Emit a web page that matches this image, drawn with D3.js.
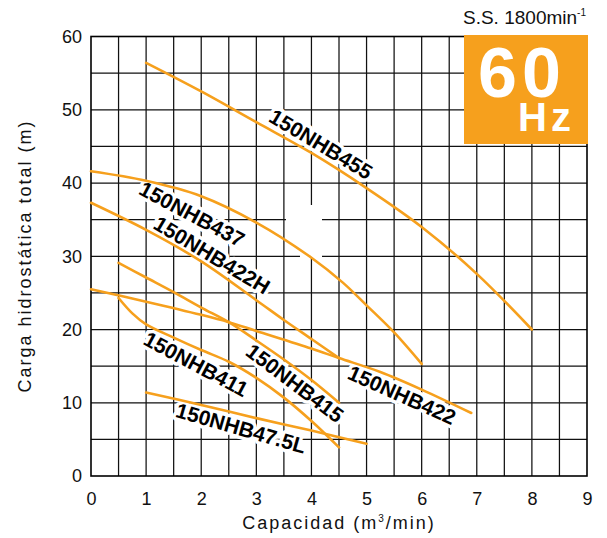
<!DOCTYPE html>
<html>
<head>
<meta charset="utf-8">
<script src="https://d3js.org/d3.v7.min.js"></script>
<style>
  body { margin: 0; background: #fff; }
  text { font-family: "Liberation Sans", Arial, Helvetica, sans-serif; }
</style>
</head>
<body>
<svg id="chart" width="607" height="538"></svg>
<script>
// tick values
var xTicks = [0, 1, 2, 3, 4, 5, 6, 7, 8, 9];
var yTicks = [0, 10, 20, 30, 40, 50, 60];

// pump models and their curves [capacity m3/min, head m]
var models = ["150NHB455", "150NHB437", "150NHB422H", "150NHB422", "150NHB415", "150NHB411", "150NHB47.5L"];
var nhb455 = [[1, 56.4], [2, 52.5], [3, 48.3], [4, 44.1], [5, 39.3], [6, 34.0], [7, 27.6], [8, 20.0]];
var nhb437 = [[0, 41.6], [1, 40.3], [2, 38.2], [3, 34.6], [4, 29.8], [4.57, 26.4], [5, 23.3], [5.5, 19.6], [6, 15.3]];
var nhb422H = [[0, 37.3], [1, 33.6], [2, 29.3], [3, 24.0], [3.5, 21.3], [4, 18.7], [4.5, 16.1]];
var nhb422 = [[0, 25.5], [1, 23.8], [2, 22.0], [2.5, 21.0], [3, 19.8], [4, 17.4], [4.5, 16.1], [5.25, 14.2], [6, 11.8], [6.9, 8.6]];
var nhb415 = [[0.5, 29.1], [1, 27.1], [1.5, 25.1], [2, 23.0], [2.5, 21.0], [3, 18.5], [3.5, 15.9], [4, 13.1], [4.5, 10.0]];
var nhb411 = [[0.5, 24.3], [0.75, 22.2], [1, 20.7], [1.5, 18.9], [2, 17.2], [2.5, 15.6], [3, 13.4], [3.5, 10.7], [4, 7.5], [4.5, 3.9]];
var nhb47 = [[1, 11.4], [2, 9.7], [3, 7.9], [4, 6.2], [5, 4.4]];
var curves = [nhb455, nhb437, nhb422H, nhb422, nhb415, nhb411, nhb47];

// where each model name sits (pixel centre) and its tilt
var labelLayout = [
  { x: 321, y: 144, a: 31 },
  { x: 192, y: 214, a: 28 },
  { x: 212, y: 255, a: 31 },
  { x: 402, y: 395, a: 24 },
  { x: 295, y: 383, a: 37 },
  { x: 196, y: 364, a: 28 },
  { x: 241, y: 428, a: 16 }
];

var orange = "#f6a01d";
var plotL = 91, plotR = 587, plotT = 36.5, plotB = 476;

var svg = d3.select("#chart");
var x = d3.scaleLinear().domain([0, 9]).range([plotL, plotR]);
var y = d3.scaleLinear().domain([0, 60]).range([plotB, plotT]);

// grid: vertical every 0.5, horizontal every 5
var grid = svg.append("g").attr("stroke", "#111").attr("stroke-width", 1.25);
grid.selectAll("line.v").data(d3.range(0.5, 9, 0.5)).enter().append("line")
  .attr("x1", function(d) { return x(d); }).attr("x2", function(d) { return x(d); })
  .attr("y1", plotT).attr("y2", plotB);
grid.selectAll("line.h").data(d3.range(5, 60, 5)).enter().append("line")
  .attr("x1", plotL).attr("x2", plotR)
  .attr("y1", function(d) { return y(d); }).attr("y2", function(d) { return y(d); });

// blank patch in the grid right of the 437 name
svg.append("rect").attr("x", 286).attr("y", 205).attr("width", 36).attr("height", 17).attr("fill", "#fff");
svg.append("rect").attr("x", 300).attr("y", 222).attr("width", 22).attr("height", 35).attr("fill", "#fff");

// frame
svg.append("rect").attr("x", plotL).attr("y", plotT)
  .attr("width", plotR - plotL).attr("height", plotB - plotT)
  .attr("fill", "none").attr("stroke", "#000").attr("stroke-width", 1.6);

// axes labels via d3 axes (no tick lines)
var xAxis = svg.append("g").attr("transform", "translate(0," + plotB + ")")
  .call(d3.axisBottom(x).tickValues(xTicks).tickSize(0).tickPadding(16));
var yAxis = svg.append("g").attr("transform", "translate(" + plotL + ",0)")
  .call(d3.axisLeft(y).tickValues(yTicks).tickSize(0).tickPadding(9));
[xAxis, yAxis].forEach(function(g) {
  g.select(".domain").remove();
  g.selectAll("text").attr("font-size", 18).attr("fill", "#111")
    .attr("font-family", "'Liberation Sans', Arial, sans-serif");
});

// axis titles
var xt = svg.append("text").attr("x", 339).attr("y", 529).attr("text-anchor", "middle")
  .attr("font-size", 18).attr("letter-spacing", 2).attr("fill", "#111");
xt.append("tspan").text("Capacidad (m");
xt.append("tspan").attr("font-size", 10).attr("dy", -7).text("3");
xt.append("tspan").attr("dy", 7).text("/min)");
svg.append("text").attr("transform", "translate(31,256) rotate(-90)")
  .attr("text-anchor", "middle").attr("font-size", 18).attr("letter-spacing", 2)
  .attr("fill", "#111").text("Carga hidrostática total (m)");

// speed note
var ss = svg.append("text").attr("x", 463).attr("y", 24).attr("font-size", 19).attr("fill", "#111");
ss.append("tspan").text("S.S. 1800min");
ss.append("tspan").attr("font-size", 10).attr("dy", -8).text("-1");

// 60 Hz badge
svg.append("rect").attr("x", 464).attr("y", plotT - 1.5)
  .attr("width", plotR + 1 - 464).attr("height", 144 - plotT + 1.5).attr("fill", orange);
svg.append("text").attr("x", 522).attr("y", 97).attr("text-anchor", "middle")
  .attr("font-size", 70).attr("font-weight", "bold").attr("letter-spacing", 5)
  .attr("fill", "#fff").text("60");
svg.append("text").attr("x", 518).attr("y", 131)
  .attr("font-size", 40).attr("font-weight", "bold").attr("letter-spacing", 4)
  .attr("fill", "#fff").text("Hz");

// model labels with white backing
var labels = svg.append("g");
models.forEach(function(name, i) {
  var p = labelLayout[i];
  labels.append("text")
    .attr("transform", "translate(" + p.x + "," + p.y + ") rotate(" + p.a + ")")
    .attr("text-anchor", "middle").attr("dominant-baseline", "central")
    .attr("font-size", 21).attr("font-weight", "bold")
    .attr("fill", "#000").attr("stroke", "#fff").attr("stroke-width", 7)
    .attr("stroke-linejoin", "round").attr("paint-order", "stroke")
    .text(name);
});

// pump curves
var line = d3.line()
  .x(function(d) { return x(d[0]); })
  .y(function(d) { return y(d[1]); })
  .curve(d3.curveCatmullRom.alpha(0.5));
svg.append("g").selectAll("path").data(curves).enter().append("path")
  .attr("d", line).attr("fill", "none")
  .attr("stroke", orange).attr("stroke-width", 2.6).attr("stroke-linecap", "round");
</script>
</body>
</html>
